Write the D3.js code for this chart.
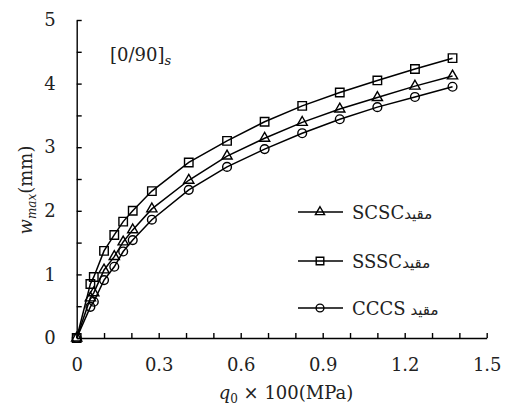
<!DOCTYPE html>
<html><head><meta charset="utf-8">
<script src="https://cdn.jsdelivr.net/npm/d3@7"></script>
<style>body{margin:0;background:#fff}</style>
</head><body>
<svg id="c" width="505" height="405"></svg>
<script>
const loads = [0, 0.05, 0.0625, 0.1, 0.1375, 0.17, 0.205, 0.275, 0.41, 0.55, 0.6875, 0.825, 0.9625, 1.1, 1.2375, 1.375];
const sssc = [0, 0.85, 0.96, 1.37, 1.62, 1.83, 2.0, 2.31, 2.76, 3.10, 3.40, 3.65, 3.86, 4.05, 4.23, 4.40];
const scsc = [0, 0.63, 0.71, 1.07, 1.28, 1.51, 1.70, 2.03, 2.48, 2.86, 3.14, 3.39, 3.60, 3.78, 3.96, 4.12];
const cccs = [0, 0.49, 0.57, 0.91, 1.12, 1.36, 1.54, 1.86, 2.33, 2.69, 2.97, 3.22, 3.44, 3.63, 3.79, 3.95];
const seriesNames = ["SCSC", "SSSC", "CCCS"];
const legendSuffix = ["مقيد", "مقيد", " مقيد"];
const xTicks = [0, 0.1, 0.2, 0.3, 0.4, 0.5, 0.6, 0.7, 0.8, 0.9, 1.0, 1.1, 1.2, 1.3, 1.4, 1.5];
const xLabels = [0, 0.3, 0.6, 0.9, 1.2, 1.5];
const yTicks = [0, 0.5, 1, 1.5, 2, 2.5, 3, 3.5, 4, 4.5, 5];
const yLabels = [0, 1, 2, 3, 4, 5];

const svg = d3.select("#c");
const x = d3.scaleLinear().domain([0, 1.5]).range([76.7, 486.7]);
const y = d3.scaleLinear().domain([0, 5]).range([338, 20]);
const FONT = "DejaVu Serif";

const fmt = v => xLabels.some(l => Math.abs(l - v) < 1e-9) ? d3.format("")(+v.toFixed(1)) : "";
const gx = svg.append("g").attr("transform", `translate(0,${y(0)})`)
  .call(d3.axisBottom(x).tickValues(xTicks).tickSize(-5).tickSizeOuter(0).tickPadding(20).tickFormat(fmt));
const gy = svg.append("g").attr("transform", `translate(${x(0)},0)`)
  .call(d3.axisLeft(y).tickValues(yTicks).tickSize(-5).tickSizeOuter(0).tickPadding(21)
    .tickFormat(v => yLabels.includes(v) ? String(v) : ""));
[gx, gy].forEach(g => {
  g.selectAll("path, line").attr("stroke", "#000").attr("stroke-width", 1.4);
  g.selectAll("text").attr("font-family", FONT).attr("font-size", 18).attr("fill", "#222");
});

const data = [
  {name: "SCSC", vals: scsc, sym: d3.symbolTriangle},
  {name: "SSSC", vals: sssc, sym: d3.symbolSquare},
  {name: "CCCS", vals: cccs, sym: d3.symbolCircle}
];
const symSize = {"SCSC": 45, "SSSC": 72, "CCCS": 60};
const line = d3.line().x(d => x(d[0])).y(d => y(d[1]));
data.forEach(s => {
  const pts = loads.map((l, i) => [l, s.vals[i]]);
  svg.append("path").attr("d", line(pts)).attr("fill", "none").attr("stroke", "#000").attr("stroke-width", 1.5);
  svg.append("g").selectAll("path").data(pts).join("path")
    .attr("transform", d => `translate(${x(d[0])},${y(d[1])})`)
    .attr("d", d3.symbol().type(s.sym).size(symSize[s.name]))
    .attr("fill", "none").attr("stroke", "#000").attr("stroke-width", 1.4);
});

// legend
const legY = [212, 261, 308];
data.forEach((s, i) => {
  const g = svg.append("g").attr("transform", `translate(0,${legY[i]})`);
  g.append("line").attr("x1", 298).attr("x2", 343).attr("stroke", "#000").attr("stroke-width", 1.5);
  g.append("path").attr("transform", "translate(320,0)")
    .attr("d", d3.symbol().type(s.sym).size(symSize[s.name] * 0.8))
    .attr("fill", "none").attr("stroke", "#000").attr("stroke-width", 1.4);
  const t = g.append("text").attr("x", 352).attr("y", 6.5).attr("font-family", FONT).attr("font-size", 18).attr("fill", "#222").attr("direction", "ltr");
  t.append("tspan").text(seriesNames[i]);
  t.append("tspan").attr("font-family", "DejaVu Sans").attr("font-size", 15).text(legendSuffix[i]);
});

// title
const tt = svg.append("text").attr("x", 110).attr("y", 61).attr("font-family", FONT).attr("font-size", 18).attr("fill", "#222");
tt.append("tspan").text("[0/90]");
tt.append("tspan").attr("font-style", "italic").attr("font-size", 13).attr("dy", 4).text("s");

// x axis title
const xt = svg.append("text").attr("x", 286).attr("y", 399).attr("text-anchor", "middle").attr("font-family", FONT).attr("font-size", 18).attr("fill", "#222");
xt.append("tspan").attr("font-style", "italic").text("q");
xt.append("tspan").attr("font-size", 12).attr("dy", 4).text("0");
xt.append("tspan").attr("dy", -4).text(" × 100(MPa)");

// y axis title
const yt = svg.append("text").attr("transform", "translate(32,190) rotate(-90)").attr("text-anchor", "middle").attr("font-family", FONT).attr("font-size", 18).attr("fill", "#222");
yt.append("tspan").attr("font-style", "italic").text("w");
yt.append("tspan").attr("font-style", "italic").attr("font-size", 12).attr("dy", 4).text("max");
yt.append("tspan").attr("dy", -4).text("(mm)");
</script>
</body></html>
